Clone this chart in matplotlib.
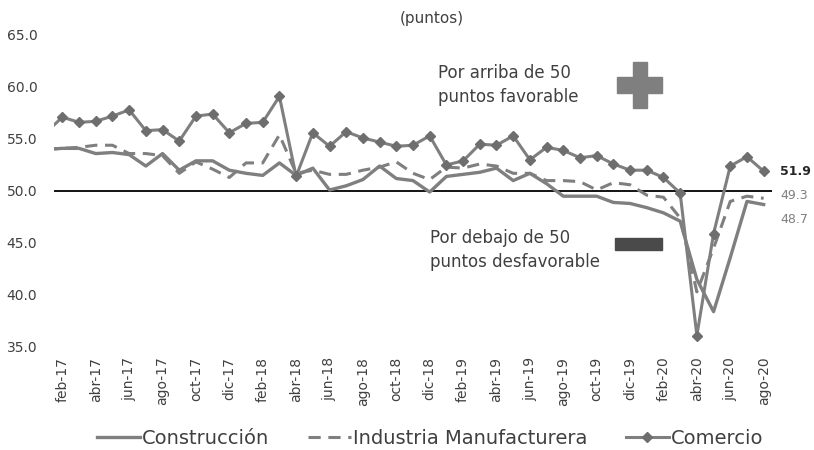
import numpy as np
import matplotlib
matplotlib.use("Agg")
import matplotlib.pyplot as plt
from matplotlib.patches import Rectangle

meses = ["ene", "feb", "mar", "abr", "may", "jun", "jul", "ago", "sep", "oct", "nov", "dic"]
fechas = []
for a in ["17", "18", "19", "20"]:
    for m in meses:
        fechas.append(m + "-" + a)
fechas = fechas[:fechas.index("ago-20") + 1]   # ene-17 .. ago-20

construccion = [54.0, 54.1, 54.1, 53.6, 53.7, 53.5, 52.4, 53.6, 52.0, 52.9, 52.9, 52.0,
                51.7, 51.5, 52.7, 51.5, 52.2, 50.1, 50.5, 51.1, 52.4, 51.2, 51.0, 49.9,
                51.4, 51.6, 51.8, 52.2, 51.0, 51.7, 50.7, 49.5, 49.5, 49.5, 48.9, 48.8,
                48.4, 47.9, 47.1, 41.5, 38.4, 43.6, 49.0, 48.7]
manufactura = [54.0, 54.1, 54.2, 54.4, 54.4, 53.6, 53.6, 53.4, 51.7, 52.8, 52.1, 51.3,
               52.7, 52.7, 55.4, 51.7, 52.0, 51.6, 51.6, 52.0, 52.3, 52.8, 51.7, 51.1,
               52.3, 52.2, 52.6, 52.4, 51.7, 51.7, 51.0, 51.0, 50.9, 50.1, 50.8, 50.6,
               49.6, 49.4, 47.4, 40.3, 44.5, 49.0, 49.5, 49.3]
comercio = [55.6, 57.1, 56.6, 56.7, 57.2, 57.8, 55.8, 55.9, 54.8, 57.2, 57.4, 55.6,
            56.5, 56.6, 59.1, 51.4, 55.6, 54.3, 55.7, 55.1, 54.7, 54.3, 54.4, 55.3,
            52.5, 52.9, 54.5, 54.4, 55.3, 53.0, 54.2, 53.9, 53.2, 53.4, 52.6, 52.0,
            52.0, 51.3, 49.8, 36.1, 45.9, 52.4, 53.3, 51.9]

gris = "#7f7f7f"
texto = "#404040"

fig = plt.figure(figsize=(8.14, 4.5), dpi=100)
ax = fig.add_axes([54 / 814, 1 - 347 / 450, (772 - 54) / 814, (347 - 35) / 450])

x = np.arange(len(fechas))
ax.plot(x, construccion, color=gris, lw=2.4, label="Construcción")
ax.plot(x, manufactura, color=gris, lw=2.2, ls=(0, (4, 2.5)), label="Industria Manufacturera")
ax.plot(x, comercio, color=gris, lw=2.2, marker="D", ms=5.5, mfc="#6e6e6e", mec="#6e6e6e",
        label="Comercio")
ax.axhline(50, color="black", lw=1.3, zorder=1)

ax.set_xlim(0.5, len(fechas) - 0.5)
ax.set_ylim(35, 65)
ax.set_yticks(np.arange(35, 66, 5))
ax.set_yticklabels(["%.1f" % v for v in np.arange(35, 66, 5)], color=texto, fontsize=10)
ax.set_xticks(x[1::2])
ax.set_xticklabels(fechas[1::2], rotation=90, color=texto, fontsize=10)
ax.tick_params(length=0, pad=7)
ax.tick_params(axis="y", pad=12)
for s in ax.spines.values():
    s.set_visible(False)

# etiquetas finales
ax.annotate("51.9", (x[-1], comercio[-1]), xytext=(12, 0), textcoords="offset points",
            va="center", fontsize=9, fontweight="bold", color="#262626", annotation_clip=False)
ax.annotate("49.3", (x[-1], manufactura[-1]), xytext=(12, 2), textcoords="offset points",
            va="center", fontsize=9, color=gris, annotation_clip=False)
ax.annotate("48.7", (x[-1], construccion[-1]), xytext=(12, -11), textcoords="offset points",
            va="center", fontsize=9, color=gris, annotation_clip=False)

fig.text(432 / 814, 1 - 18 / 450, "(puntos)", ha="center", va="center", fontsize=11, color=texto)
fig.text(438 / 814, 1 - 85 / 450, "Por arriba de 50\npuntos favorable", ha="left", va="center",
         fontsize=12, color=texto, linespacing=1.4)
fig.text(430 / 814, 1 - 250 / 450, "Por debajo de 50\npuntos desfavorable", ha="left", va="center",
         fontsize=12, color=texto, linespacing=1.4)

# signos + y -
def caja(x0, y0, x1, y1, c):
    fig.patches.append(Rectangle((x0 / 814, 1 - y1 / 450), (x1 - x0) / 814, (y1 - y0) / 450,
                                 transform=fig.transFigure, color=c, zorder=5))

caja(633, 62, 647, 108, gris)
caja(617, 77, 662, 93, gris)
caja(615, 238, 662, 250, "#4a4a4a")

fig.legend(loc="center", bbox_to_anchor=(430 / 814, 1 - 438 / 450), ncol=3, frameon=False,
           fontsize=14, handlelength=2.2, handletextpad=0.1, columnspacing=2.0,
           labelcolor=texto)

fig.savefig("out.png", dpi=100)
